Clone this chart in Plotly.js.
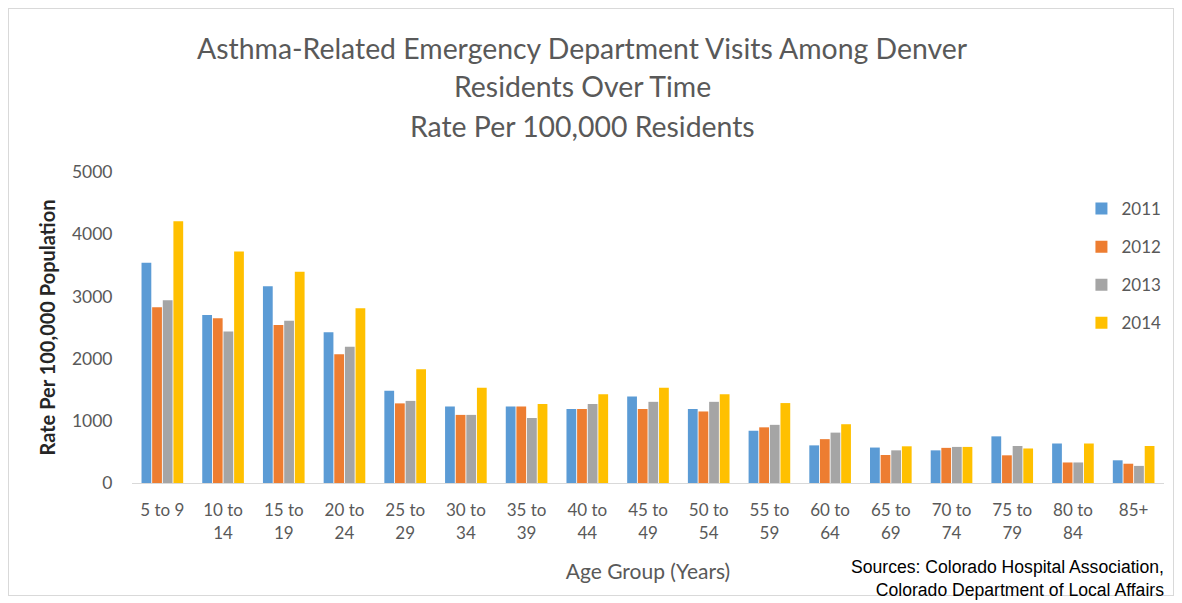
<!DOCTYPE html>
<html>
<head>
<meta charset="utf-8">
<script src="https://cdn.plot.ly/plotly-3.0.1.min.js"></script>
<style>
html,body{margin:0;padding:0;background:#fff;}
#frame{position:absolute;left:8px;top:8px;width:1166px;height:588px;border:1px solid #d9d9d9;box-sizing:border-box;}
#chart{position:absolute;left:0;top:0;width:1182px;height:603px;}
</style>
</head>
<body>
<div id="frame"></div>
<div id="chart"></div>
<script>
const categories = ["5 to 9","10 to<br>14","15 to<br>19","20 to<br>24","25 to<br>29","30 to<br>34","35 to<br>39","40 to<br>44","45 to<br>49","50 to<br>54","55 to<br>59","60 to<br>64","65 to<br>69","70 to<br>74","75 to<br>79","80 to<br>84","85+"];
const seriesNames = ["2011","2012","2013","2014"];
const values2011 = [3540,2700,3165,2425,1485,1230,1230,1190,1390,1190,840,605,570,525,750,635,365];
const values2012 = [2825,2650,2540,2070,1280,1095,1230,1190,1190,1150,895,705,450,565,445,330,310];
const values2013 = [2940,2435,2610,2190,1320,1095,1045,1270,1305,1305,935,810,525,580,595,330,275];
const values2014 = [4210,3720,3395,2810,1830,1530,1270,1425,1530,1425,1285,945,590,580,555,635,595];
const seriesColors = ["#5b9bd5","#ed7d31","#a5a5a5","#ffc000"];
const titleLines = ["Asthma-Related Emergency Department Visits Among Denver","Residents Over Time","Rate Per 100,000 Residents"];
const yTicks = [0,1000,2000,3000,4000,5000];

const allValues = [values2011, values2012, values2013, values2014];
const traces = seriesNames.map((n,i)=>({
  type:'bar', name:n, x:categories, y:allValues[i], legendgroup:'g'+i,
  marker:{color:seriesColors[i]}, hoverinfo:'x+y+name'
}));

const font = "Lato, 'Open Sans', sans-serif";
const plotTop = 172, plotBottom = 483;
const ph = plotBottom - plotTop;
function py(pix){ return (plotBottom - pix)/ph; }

const titleY = [48, 86, 126];
const annotations = titleLines.map((t,i)=>({
  text:t, xref:'paper', yref:'paper', x:0.437, y:py(titleY[i]),
  xanchor:'center', yanchor:'middle', showarrow:false,
  font:{family:font, size:28.4, color:'#595959'}
}));
annotations.push({
  text:'Sources: Colorado Hospital Association,<br>Colorado Department of Local Affairs',
  xref:'paper', yref:'paper', x:1.002, y:py(578), xanchor:'right', yanchor:'middle',
  align:'right', showarrow:false,
  font:{family:"'Liberation Sans', Arial, sans-serif", size:17.6, color:'#000'}
});

const layout = {
  width:1182, height:603,
  margin:{l:132, r:18, t:plotTop, b:603-plotBottom, pad:0, autoexpand:false},
  paper_bgcolor:'rgba(0,0,0,0)', plot_bgcolor:'rgba(0,0,0,0)',
  barmode:'group', bargap:0.3, bargroupgap:0.08,
  showlegend:true,
  legend:{x:0.92, y:py(191), xanchor:'left', yanchor:'top', tracegroupgap:13,
          font:{family:font, size:17, color:'#595959'}, itemwidth:30, bgcolor:'rgba(0,0,0,0)'},
  xaxis:{
    type:'category', showgrid:false, zeroline:false,
    showline:true, linecolor:'#d9d9d9', linewidth:1,
    ticks:'outside', ticklen:12, tickcolor:'rgba(0,0,0,0)',
    tickfont:{family:font, size:17, color:'#595959'},
    title:{text:'Age Group (Years)', font:{family:font, size:21, color:'#595959'}, standoff:22}
  },
  yaxis:{
    range:[0,5000], tickvals:yTicks, ticktext:yTicks.map(String),
    showgrid:false, zeroline:false, showline:false,
    ticks:'outside', ticklen:15, tickcolor:'rgba(0,0,0,0)',
    tickfont:{family:font, size:17.5, color:'#595959'},
    title:{text:'Rate Per 100,000 Population', font:{family:font, size:20, color:'#262626', weight:'bold'}, standoff:10}
  },
  annotations:annotations
};

Plotly.newPlot('chart', traces, layout, {displayModeBar:false, staticPlot:true});
</script>
</body>
</html>
